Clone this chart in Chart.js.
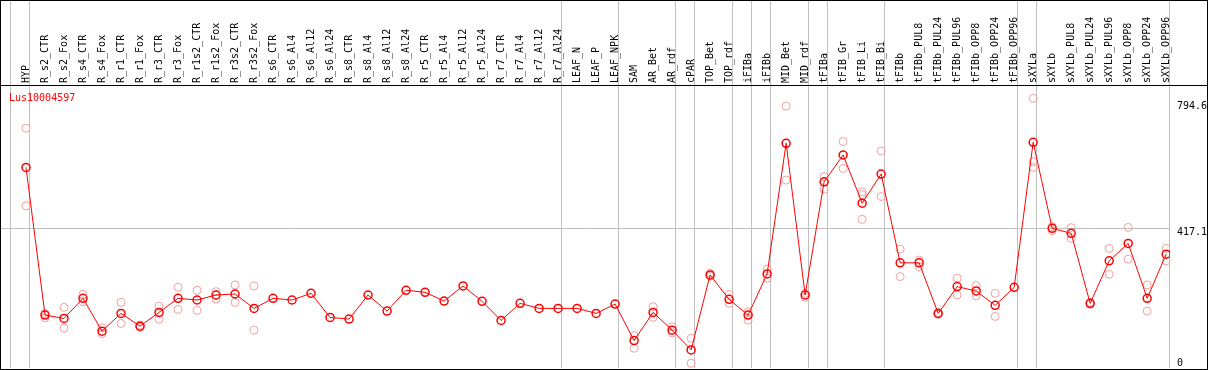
<!DOCTYPE html>
<html>
<head>
<meta charset="utf-8">
<script src="https://cdn.jsdelivr.net/npm/chart.js@4.4.1/dist/chart.umd.min.js"></script>
<style>
  body { margin: 0; background: #fff; }
  #frame { width: 1206px; height: 368px; border: 1px solid #000; }
  canvas { display: block; }
</style>
</head>
<body>
<div id="frame"><canvas id="exprChart" width="1206" height="368"></canvas></div>
<script>
const geneName = 'Lus10004597';

const categories = [
    'HYP', 'R_s2_CTR', 'R_s2_Fox', 'R_s4_CTR', 'R_s4_Fox', 'R_r1_CTR', 'R_r1_Fox', 'R_r3_CTR', 'R_r3_Fox',
    'R_r1s2_CTR', 'R_r1s2_Fox', 'R_r3s2_CTR', 'R_r3s2_Fox', 'R_s6_CTR', 'R_s6_Al4', 'R_s6_Al12', 'R_s6_Al24',
    'R_s8_CTR', 'R_s8_Al4', 'R_s8_Al12', 'R_s8_Al24', 'R_r5_CTR', 'R_r5_Al4', 'R_r5_Al12', 'R_r5_Al24',
    'R_r7_CTR', 'R_r7_Al4', 'R_r7_Al12', 'R_r7_Al24', 'LEAF_N', 'LEAF_P', 'LEAF_NPK', 'SAM', 'AR_Bet', 'AR_rdf',
    'cPAR', 'TOP_Bet', 'TOP_rdf', 'iFIBa', 'iFIBb', 'MID_Bet', 'MID_rdf', 'tFIBa', 'tFIB_Gr', 'tFIB_Li', 'tFIB_Bi',
    'tFIBb', 'tFIBb_PUL8', 'tFIBb_PUL24', 'tFIBb_PUL96', 'tFIBb_OPP8', 'tFIBb_OPP24', 'tFIBb_OPP96',
    'sXYLa', 'sXYLb', 'sXYLb_PUL8', 'sXYLb_PUL24', 'sXYLb_PUL96', 'sXYLb_OPP8', 'sXYLb_OPP24', 'sXYLb_OPP96'
];

// mean expression per sample
const meanValues = [
    599, 158, 148, 208, 110, 163, 125, 166, 208, 203, 218, 221, 178, 208, 203, 223, 151, 146, 218, 170,
    232, 226, 200, 245, 199, 142, 193, 178, 178, 178, 163, 191, 82, 166, 113, 54, 278, 205, 158, 281, 671,
    218, 556, 636, 492, 579, 314, 314, 163, 243, 230, 187, 241, 674, 417, 402, 193, 320, 372, 208, 340
];

// single replicates (faint circles)
const replicateValues = [
    [716, 484], [163, 150], [181, 119], [220, 198], [120, 103], [196, 133], [128, 121], [185, 146],
    [241, 175], [232, 172], [228, 206], [248, 196], [245, 113], [], [], [], [], [], [], [], [], [], [],
    [], [], [], [], [], [], [], [], [], [97, 59], [183, 151], [123, 105], [89, 14], [283, 274],
    [220, 193], [168, 143], [295, 268], [782, 561], [223, 211], [571, 534], [676, 596], [526, 518, 444],
    [648, 512], [355, 273], [322, 302], [166, 160], [268, 218], [246, 215], [223, 154], [],
    [805, 616, 599], [422, 410], [419, 387], [196, 190], [357, 280], [420, 325], [248, 170], [357, 320]
];

const yTickValues = [0, 417.1, 794.6];
// index of first sample in each group (separator lines)
const groupStarts = [0, 1, 29, 32, 35, 36, 38, 39, 40, 42, 43, 46, 53, 54, 61];

const BOUNDARY_SHIFT = 0.81;
const GRID = '#c0c0c0';
const NONE = 'rgba(0,0,0,0)';
const MONO = 'DejaVu Sans Mono';

const meanPoints = meanValues.map((v, i) => ({ x: i, y: v }));
const replicatePoints = [];
replicateValues.forEach((reps, i) => {
    reps.forEach(v => replicatePoints.push({ x: i, y: v }));
});

const xTicks = categories.map((c, i) => i)
    .concat(groupStarts.map(k => k - BOUNDARY_SHIFT))
    .sort((a, b) => a - b);

const decorations = {
    id: 'decorations',
    afterDraw(chart) {
        const { ctx, chartArea, width } = chart;
        ctx.save();
        ctx.strokeStyle = '#000';
        ctx.lineWidth = 1;
        ctx.beginPath();
        ctx.moveTo(0, chartArea.top + 0.5);
        ctx.lineTo(width, chartArea.top + 0.5);
        ctx.stroke();
        ctx.fillStyle = '#ff0000';
        ctx.font = '10px "' + MONO + '"';
        ctx.textBaseline = 'alphabetic';
        ctx.fillText(chart.data.datasets[0].label, chartArea.left + 8, chartArea.top + 16);
        ctx.restore();
    }
};

const ctx = document.getElementById('exprChart').getContext('2d');
new Chart(ctx, {
    type: 'scatter',
    data: {
        datasets: [{
            label: geneName,
            data: meanPoints,
            showLine: true,
            borderColor: '#ff0000',
            borderWidth: 1,
            pointRadius: 4,
            pointBorderWidth: 1.5,
            pointBorderColor: '#ff0000',
            pointBackgroundColor: NONE,
            order: 0
        }, {
            label: 'replicates',
            data: replicatePoints,
            pointRadius: 4,
            borderWidth: 1,
            borderColor: '#f0a0a0',
            backgroundColor: NONE,
            order: 1
        }]
    },
    options: {
        responsive: false,
        animation: false,
        devicePixelRatio: 1,
        layout: { autoPadding: false, padding: { bottom: 1 } },
        plugins: {
            legend: { display: false },
            tooltip: { enabled: false }
        },
        scales: {
            x: {
                type: 'linear',
                position: 'top',
                min: -1.3155,
                max: 60.2,
                bounds: 'data',
                afterBuildTicks: scale => { scale.ticks = xTicks.map(v => ({ value: v })); },
                afterFit: scale => {
                    scale.height = 84;
                    scale.paddingLeft = 0;
                    scale.paddingRight = 0;
                },
                border: { display: false },
                grid: {
                    color: c => (c.tick && !Number.isInteger(c.tick.value)) ? GRID : NONE,
                    lineWidth: 1,
                    drawTicks: true,
                    tickLength: 84
                },
                ticks: {
                    autoSkip: false,
                    minRotation: 90,
                    maxRotation: 90,
                    padding: -82,
                    labelOffset: 12,
                    color: '#000',
                    font: { family: MONO, size: 10 },
                    callback: v => Number.isInteger(v) ? categories[v] : ''
                }
            },
            y: {
                type: 'linear',
                position: 'right',
                min: 0,
                max: 845,
                bounds: 'data',
                afterBuildTicks: scale => { scale.ticks = yTickValues.map(v => ({ value: v })); },
                afterFit: scale => {
                    scale.width = 37;
                    scale.paddingTop = 0;
                    scale.paddingBottom = 0;
                },
                border: { display: false },
                grid: {
                    color: c => (c.tick && c.tick.value === 417.1) ? GRID : NONE,
                    drawTicks: false
                },
                ticks: {
                    padding: 7,
                    color: '#000',
                    font: { family: MONO, size: 10, lineHeight: 0.9 },
                    callback: v => v === 0 ? ['0', ''] : ['', v.toFixed(1)]
                }
            }
        }
    },
    plugins: [decorations]
});
</script>
</body>
</html>
